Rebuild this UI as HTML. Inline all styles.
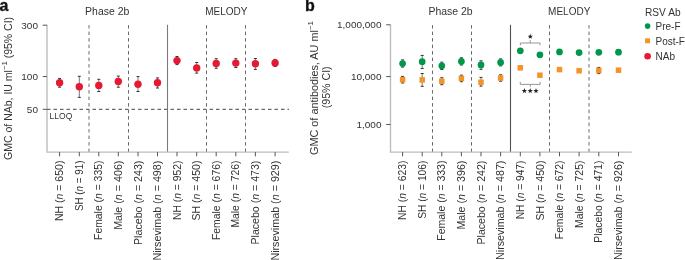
<!DOCTYPE html><html><head><meta charset="utf-8"><style>html,body{margin:0;padding:0;background:#fff;}svg{display:block;will-change:transform;}text{font-family:"Liberation Sans",sans-serif;}</style></head><body>
<svg width="685" height="260" viewBox="0 0 685 260">
<rect width="685" height="260" fill="#fff"/>
<text x="-0.4" y="11.4" font-size="16" font-weight="bold" fill="#111" stroke="#111" stroke-width="0.3">a</text>
<line x1="89.0" y1="25.1" x2="89.0" y2="152.1" stroke="#6a6a6a" stroke-width="1" stroke-dasharray="3.5 3"/>
<line x1="128.5" y1="25.1" x2="128.5" y2="152.1" stroke="#6a6a6a" stroke-width="1" stroke-dasharray="3.5 3"/>
<line x1="206.5" y1="25.1" x2="206.5" y2="152.1" stroke="#6a6a6a" stroke-width="1" stroke-dasharray="3.5 3"/>
<line x1="245.5" y1="25.1" x2="245.5" y2="152.1" stroke="#6a6a6a" stroke-width="1" stroke-dasharray="3.5 3"/>
<line x1="167.5" y1="24.8" x2="167.5" y2="152.1" stroke="#7a7a7a" stroke-width="1.1"/>
<path d="M47 24.8 V152.1 H288.8" fill="none" stroke="#bdbdbd" stroke-width="1.4"/>
<line x1="42.7" y1="25.2" x2="47" y2="25.2" stroke="#555" stroke-width="1"/>
<text x="38" y="28.60" font-size="9.4" fill="#333" text-anchor="end" textLength="16.69" lengthAdjust="spacingAndGlyphs">300</text>
<line x1="42.7" y1="76.6" x2="47" y2="76.6" stroke="#555" stroke-width="1"/>
<text x="38" y="80.00" font-size="9.4" fill="#333" text-anchor="end" textLength="16.69" lengthAdjust="spacingAndGlyphs">100</text>
<line x1="42.7" y1="109.3" x2="47" y2="109.3" stroke="#555" stroke-width="1"/>
<text x="38" y="112.70" font-size="9.4" fill="#333" text-anchor="end" textLength="11.12" lengthAdjust="spacingAndGlyphs">50</text>
<line x1="59.6" y1="152.1" x2="59.6" y2="156.29999999999998" stroke="#555" stroke-width="1"/>
<line x1="79.3" y1="152.1" x2="79.3" y2="156.29999999999998" stroke="#555" stroke-width="1"/>
<line x1="98.8" y1="152.1" x2="98.8" y2="156.29999999999998" stroke="#555" stroke-width="1"/>
<line x1="118.3" y1="152.1" x2="118.3" y2="156.29999999999998" stroke="#555" stroke-width="1"/>
<line x1="138.0" y1="152.1" x2="138.0" y2="156.29999999999998" stroke="#555" stroke-width="1"/>
<line x1="157.5" y1="152.1" x2="157.5" y2="156.29999999999998" stroke="#555" stroke-width="1"/>
<line x1="177.0" y1="152.1" x2="177.0" y2="156.29999999999998" stroke="#555" stroke-width="1"/>
<line x1="196.7" y1="152.1" x2="196.7" y2="156.29999999999998" stroke="#555" stroke-width="1"/>
<line x1="216.2" y1="152.1" x2="216.2" y2="156.29999999999998" stroke="#555" stroke-width="1"/>
<line x1="235.8" y1="152.1" x2="235.8" y2="156.29999999999998" stroke="#555" stroke-width="1"/>
<line x1="255.4" y1="152.1" x2="255.4" y2="156.29999999999998" stroke="#555" stroke-width="1"/>
<line x1="275.1" y1="152.1" x2="275.1" y2="156.29999999999998" stroke="#555" stroke-width="1"/>
<text x="107.2" y="15" font-size="10" fill="#333" text-anchor="middle" textLength="44.2" lengthAdjust="spacingAndGlyphs">Phase 2b</text>
<text x="226.3" y="15" font-size="10" fill="#333" text-anchor="middle">MELODY</text>
<line x1="47" y1="109.4" x2="289" y2="109.4" stroke="#6a6a6a" stroke-width="1.1" stroke-dasharray="3.5 3"/>
<text x="49.6" y="119.2" font-size="8.5" fill="#333">LLOQ</text>
<text transform="translate(12.3 88.4) rotate(-90)" font-size="10" fill="#333" text-anchor="middle" textLength="143" lengthAdjust="spacingAndGlyphs">GMC of NAb, IU ml<tspan font-size="7.4" dy="-5">−1</tspan><tspan dy="5"> (95% CI)</tspan></text>
<line x1="59.6" y1="78.4" x2="59.6" y2="87.2" stroke="#555" stroke-width="0.8"/>
<line x1="58.1" y1="78.4" x2="61.1" y2="78.4" stroke="#333" stroke-width="1"/>
<line x1="58.1" y1="87.2" x2="61.1" y2="87.2" stroke="#333" stroke-width="1"/>
<circle cx="59.6" cy="82.8" r="3.7" fill="#e41a32"/>
<line x1="79.3" y1="76.3" x2="79.3" y2="97.4" stroke="#555" stroke-width="0.8"/>
<line x1="77.8" y1="76.3" x2="80.8" y2="76.3" stroke="#333" stroke-width="1"/>
<line x1="77.8" y1="97.4" x2="80.8" y2="97.4" stroke="#333" stroke-width="1"/>
<circle cx="79.3" cy="86.8" r="3.7" fill="#e41a32"/>
<line x1="98.8" y1="79.3" x2="98.8" y2="91.5" stroke="#555" stroke-width="0.8"/>
<line x1="97.3" y1="79.3" x2="100.3" y2="79.3" stroke="#333" stroke-width="1"/>
<line x1="97.3" y1="91.5" x2="100.3" y2="91.5" stroke="#333" stroke-width="1"/>
<circle cx="98.8" cy="85.4" r="3.7" fill="#e41a32"/>
<line x1="118.3" y1="76.1" x2="118.3" y2="87.2" stroke="#555" stroke-width="0.8"/>
<line x1="116.8" y1="76.1" x2="119.8" y2="76.1" stroke="#333" stroke-width="1"/>
<line x1="116.8" y1="87.2" x2="119.8" y2="87.2" stroke="#333" stroke-width="1"/>
<circle cx="118.3" cy="81.5" r="3.7" fill="#e41a32"/>
<line x1="138.0" y1="76.6" x2="138.0" y2="91.5" stroke="#555" stroke-width="0.8"/>
<line x1="136.5" y1="76.6" x2="139.5" y2="76.6" stroke="#333" stroke-width="1"/>
<line x1="136.5" y1="91.5" x2="139.5" y2="91.5" stroke="#333" stroke-width="1"/>
<circle cx="138.0" cy="84.2" r="3.7" fill="#e41a32"/>
<line x1="157.5" y1="77.9" x2="157.5" y2="88.0" stroke="#555" stroke-width="0.8"/>
<line x1="156.0" y1="77.9" x2="159.0" y2="77.9" stroke="#333" stroke-width="1"/>
<line x1="156.0" y1="88.0" x2="159.0" y2="88.0" stroke="#333" stroke-width="1"/>
<circle cx="157.5" cy="82.8" r="3.7" fill="#e41a32"/>
<line x1="177.0" y1="56.5" x2="177.0" y2="64.6" stroke="#555" stroke-width="0.8"/>
<line x1="175.5" y1="56.5" x2="178.5" y2="56.5" stroke="#333" stroke-width="1"/>
<line x1="175.5" y1="64.6" x2="178.5" y2="64.6" stroke="#333" stroke-width="1"/>
<circle cx="177.0" cy="60.6" r="3.7" fill="#e41a32"/>
<line x1="196.7" y1="62.5" x2="196.7" y2="73.1" stroke="#555" stroke-width="0.8"/>
<line x1="195.2" y1="62.5" x2="198.2" y2="62.5" stroke="#333" stroke-width="1"/>
<line x1="195.2" y1="73.1" x2="198.2" y2="73.1" stroke="#333" stroke-width="1"/>
<circle cx="196.7" cy="67.9" r="3.7" fill="#e41a32"/>
<line x1="216.2" y1="58.7" x2="216.2" y2="68.3" stroke="#555" stroke-width="0.8"/>
<line x1="214.7" y1="58.7" x2="217.7" y2="58.7" stroke="#333" stroke-width="1"/>
<line x1="214.7" y1="68.3" x2="217.7" y2="68.3" stroke="#333" stroke-width="1"/>
<circle cx="216.2" cy="63.5" r="3.7" fill="#e41a32"/>
<line x1="235.8" y1="58.7" x2="235.8" y2="67.5" stroke="#555" stroke-width="0.8"/>
<line x1="234.3" y1="58.7" x2="237.3" y2="58.7" stroke="#333" stroke-width="1"/>
<line x1="234.3" y1="67.5" x2="237.3" y2="67.5" stroke="#333" stroke-width="1"/>
<circle cx="235.8" cy="63.1" r="3.7" fill="#e41a32"/>
<line x1="255.4" y1="58.5" x2="255.4" y2="69.4" stroke="#555" stroke-width="0.8"/>
<line x1="253.9" y1="58.5" x2="256.9" y2="58.5" stroke="#333" stroke-width="1"/>
<line x1="253.9" y1="69.4" x2="256.9" y2="69.4" stroke="#333" stroke-width="1"/>
<circle cx="255.4" cy="63.8" r="3.7" fill="#e41a32"/>
<line x1="275.1" y1="59.4" x2="275.1" y2="66.4" stroke="#555" stroke-width="0.8"/>
<line x1="273.6" y1="59.4" x2="276.6" y2="59.4" stroke="#333" stroke-width="1"/>
<line x1="273.6" y1="66.4" x2="276.6" y2="66.4" stroke="#333" stroke-width="1"/>
<circle cx="275.1" cy="62.9" r="3.7" fill="#e41a32"/>
<text transform="translate(63.20 160.6) rotate(-90)" font-size="10" fill="#333" text-anchor="end" textLength="60.45" lengthAdjust="spacingAndGlyphs">NH (<tspan font-style="italic">n</tspan> = 650)</text>
<text transform="translate(82.90 160.6) rotate(-90)" font-size="10" fill="#333" text-anchor="end" textLength="50.42" lengthAdjust="spacingAndGlyphs">SH (<tspan font-style="italic">n</tspan> = 91)</text>
<text transform="translate(102.40 160.6) rotate(-90)" font-size="10" fill="#333" text-anchor="end" textLength="79.34" lengthAdjust="spacingAndGlyphs">Female (<tspan font-style="italic">n</tspan> = 335)</text>
<text transform="translate(121.90 160.6) rotate(-90)" font-size="10" fill="#333" text-anchor="end" textLength="69.28" lengthAdjust="spacingAndGlyphs">Male (<tspan font-style="italic">n</tspan> = 406)</text>
<text transform="translate(141.60 160.6) rotate(-90)" font-size="10" fill="#333" text-anchor="end" textLength="84.43" lengthAdjust="spacingAndGlyphs">Placebo (<tspan font-style="italic">n</tspan> = 243)</text>
<text transform="translate(161.10 160.6) rotate(-90)" font-size="10" fill="#333" text-anchor="end" textLength="100.01" lengthAdjust="spacingAndGlyphs">Nirsevimab (<tspan font-style="italic">n</tspan> = 498)</text>
<text transform="translate(180.60 160.6) rotate(-90)" font-size="10" fill="#333" text-anchor="end" textLength="59.45" lengthAdjust="spacingAndGlyphs">NH (<tspan font-style="italic">n</tspan> = 952)</text>
<text transform="translate(200.30 160.6) rotate(-90)" font-size="10" fill="#333" text-anchor="end" textLength="59.88" lengthAdjust="spacingAndGlyphs">SH (<tspan font-style="italic">n</tspan> = 450)</text>
<text transform="translate(219.80 160.6) rotate(-90)" font-size="10" fill="#333" text-anchor="end" textLength="79.44" lengthAdjust="spacingAndGlyphs">Female (<tspan font-style="italic">n</tspan> = 676)</text>
<text transform="translate(239.40 160.6) rotate(-90)" font-size="10" fill="#333" text-anchor="end" textLength="66.98" lengthAdjust="spacingAndGlyphs">Male (<tspan font-style="italic">n</tspan> = 726)</text>
<text transform="translate(259.00 160.6) rotate(-90)" font-size="10" fill="#333" text-anchor="end" textLength="83.93" lengthAdjust="spacingAndGlyphs">Placebo (<tspan font-style="italic">n</tspan> = 473)</text>
<text transform="translate(278.70 160.6) rotate(-90)" font-size="10" fill="#333" text-anchor="end" textLength="100.01" lengthAdjust="spacingAndGlyphs">Nirsevimab (<tspan font-style="italic">n</tspan> = 929)</text>
<text x="305.1" y="11.4" font-size="16" font-weight="bold" fill="#111" stroke="#111" stroke-width="0.3">b</text>
<line x1="432.5" y1="25.1" x2="432.5" y2="152.1" stroke="#6a6a6a" stroke-width="1" stroke-dasharray="3.5 3"/>
<line x1="471.5" y1="25.1" x2="471.5" y2="152.1" stroke="#6a6a6a" stroke-width="1" stroke-dasharray="3.5 3"/>
<line x1="549.5" y1="25.1" x2="549.5" y2="152.1" stroke="#6a6a6a" stroke-width="1" stroke-dasharray="3.5 3"/>
<line x1="589.0" y1="25.1" x2="589.0" y2="152.1" stroke="#6a6a6a" stroke-width="1" stroke-dasharray="3.5 3"/>
<line x1="510.5" y1="24.8" x2="510.5" y2="152.1" stroke="#505050" stroke-width="1.1"/>
<path d="M390.5 24.8 V152.1 H631.8" fill="none" stroke="#bdbdbd" stroke-width="1.4"/>
<line x1="386.2" y1="24.8" x2="390.5" y2="24.8" stroke="#555" stroke-width="1"/>
<text x="381.5" y="28.20" font-size="9.4" fill="#333" text-anchor="end" textLength="44.5" lengthAdjust="spacingAndGlyphs">1,000,000</text>
<line x1="386.2" y1="76.6" x2="390.5" y2="76.6" stroke="#555" stroke-width="1"/>
<text x="381.5" y="80.00" font-size="9.4" fill="#333" text-anchor="end" textLength="30.59" lengthAdjust="spacingAndGlyphs">10,000</text>
<line x1="386.2" y1="124.5" x2="390.5" y2="124.5" stroke="#555" stroke-width="1"/>
<text x="381.5" y="127.90" font-size="9.4" fill="#333" text-anchor="end" textLength="25.03" lengthAdjust="spacingAndGlyphs">1,000</text>
<line x1="402.6" y1="152.1" x2="402.6" y2="156.29999999999998" stroke="#555" stroke-width="1"/>
<line x1="422.2" y1="152.1" x2="422.2" y2="156.29999999999998" stroke="#555" stroke-width="1"/>
<line x1="441.8" y1="152.1" x2="441.8" y2="156.29999999999998" stroke="#555" stroke-width="1"/>
<line x1="461.4" y1="152.1" x2="461.4" y2="156.29999999999998" stroke="#555" stroke-width="1"/>
<line x1="481.0" y1="152.1" x2="481.0" y2="156.29999999999998" stroke="#555" stroke-width="1"/>
<line x1="500.6" y1="152.1" x2="500.6" y2="156.29999999999998" stroke="#555" stroke-width="1"/>
<line x1="520.3" y1="152.1" x2="520.3" y2="156.29999999999998" stroke="#555" stroke-width="1"/>
<line x1="539.9" y1="152.1" x2="539.9" y2="156.29999999999998" stroke="#555" stroke-width="1"/>
<line x1="559.5" y1="152.1" x2="559.5" y2="156.29999999999998" stroke="#555" stroke-width="1"/>
<line x1="579.1" y1="152.1" x2="579.1" y2="156.29999999999998" stroke="#555" stroke-width="1"/>
<line x1="598.8" y1="152.1" x2="598.8" y2="156.29999999999998" stroke="#555" stroke-width="1"/>
<line x1="618.5" y1="152.1" x2="618.5" y2="156.29999999999998" stroke="#555" stroke-width="1"/>
<text x="450.6" y="15" font-size="10" fill="#333" text-anchor="middle" textLength="44.2" lengthAdjust="spacingAndGlyphs">Phase 2b</text>
<text x="569.2" y="15" font-size="10" fill="#333" text-anchor="middle">MELODY</text>
<text transform="translate(317.6 88) rotate(-90)" font-size="10" fill="#333" text-anchor="middle" textLength="134" lengthAdjust="spacingAndGlyphs">GMC of antibodies, AU ml<tspan font-size="7.4" dy="-5">−1</tspan></text>
<text transform="translate(330.4 87.3) rotate(-90)" font-size="10" fill="#333" text-anchor="middle" textLength="41.8" lengthAdjust="spacingAndGlyphs">(95% CI)</text>
<line x1="402.6" y1="59.9" x2="402.6" y2="67.1" stroke="#555" stroke-width="0.8"/>
<line x1="401.1" y1="59.9" x2="404.1" y2="59.9" stroke="#333" stroke-width="1"/>
<line x1="401.1" y1="67.1" x2="404.1" y2="67.1" stroke="#333" stroke-width="1"/>
<circle cx="402.6" cy="63.5" r="3.35" fill="#00964b"/>
<line x1="422.2" y1="55.4" x2="422.2" y2="68.5" stroke="#555" stroke-width="0.8"/>
<line x1="420.7" y1="55.4" x2="423.7" y2="55.4" stroke="#333" stroke-width="1"/>
<line x1="420.7" y1="68.5" x2="423.7" y2="68.5" stroke="#333" stroke-width="1"/>
<circle cx="422.2" cy="61.7" r="3.35" fill="#00964b"/>
<line x1="441.8" y1="62.2" x2="441.8" y2="69.5" stroke="#555" stroke-width="0.8"/>
<line x1="440.3" y1="62.2" x2="443.3" y2="62.2" stroke="#333" stroke-width="1"/>
<line x1="440.3" y1="69.5" x2="443.3" y2="69.5" stroke="#333" stroke-width="1"/>
<circle cx="441.8" cy="65.8" r="3.35" fill="#00964b"/>
<line x1="461.4" y1="57.8" x2="461.4" y2="65.0" stroke="#555" stroke-width="0.8"/>
<line x1="459.9" y1="57.8" x2="462.9" y2="57.8" stroke="#333" stroke-width="1"/>
<line x1="459.9" y1="65.0" x2="462.9" y2="65.0" stroke="#333" stroke-width="1"/>
<circle cx="461.4" cy="61.4" r="3.35" fill="#00964b"/>
<line x1="481.0" y1="60.8" x2="481.0" y2="69.3" stroke="#555" stroke-width="0.8"/>
<line x1="479.5" y1="60.8" x2="482.5" y2="60.8" stroke="#333" stroke-width="1"/>
<line x1="479.5" y1="69.3" x2="482.5" y2="69.3" stroke="#333" stroke-width="1"/>
<circle cx="481.0" cy="64.9" r="3.35" fill="#00964b"/>
<line x1="500.6" y1="58.9" x2="500.6" y2="65.9" stroke="#555" stroke-width="0.8"/>
<line x1="499.1" y1="58.9" x2="502.1" y2="58.9" stroke="#333" stroke-width="1"/>
<line x1="499.1" y1="65.9" x2="502.1" y2="65.9" stroke="#333" stroke-width="1"/>
<circle cx="500.6" cy="62.4" r="3.35" fill="#00964b"/>
<circle cx="520.3" cy="50.8" r="3.35" fill="#00964b"/>
<circle cx="539.9" cy="54.8" r="3.35" fill="#00964b"/>
<circle cx="559.5" cy="51.9" r="3.35" fill="#00964b"/>
<circle cx="579.1" cy="52.6" r="3.35" fill="#00964b"/>
<circle cx="598.8" cy="52.3" r="3.35" fill="#00964b"/>
<circle cx="618.5" cy="52.2" r="3.35" fill="#00964b"/>
<line x1="402.6" y1="76.4" x2="402.6" y2="83.0" stroke="#555" stroke-width="0.8"/>
<line x1="401.1" y1="76.4" x2="404.1" y2="76.4" stroke="#333" stroke-width="1"/>
<line x1="401.1" y1="83.0" x2="404.1" y2="83.0" stroke="#333" stroke-width="1"/>
<rect x="399.85" y="76.95" width="5.5" height="5.5" fill="#f29428"/>
<line x1="422.2" y1="73.5" x2="422.2" y2="86.3" stroke="#555" stroke-width="0.8"/>
<line x1="420.7" y1="73.5" x2="423.7" y2="73.5" stroke="#333" stroke-width="1"/>
<line x1="420.7" y1="86.3" x2="423.7" y2="86.3" stroke="#333" stroke-width="1"/>
<rect x="419.45" y="77.15" width="5.5" height="5.5" fill="#f29428"/>
<line x1="441.8" y1="77.7" x2="441.8" y2="84.7" stroke="#555" stroke-width="0.8"/>
<line x1="440.3" y1="77.7" x2="443.3" y2="77.7" stroke="#333" stroke-width="1"/>
<line x1="440.3" y1="84.7" x2="443.3" y2="84.7" stroke="#333" stroke-width="1"/>
<rect x="439.05" y="78.45" width="5.5" height="5.5" fill="#f29428"/>
<line x1="461.4" y1="75.2" x2="461.4" y2="81.7" stroke="#555" stroke-width="0.8"/>
<line x1="459.9" y1="75.2" x2="462.9" y2="75.2" stroke="#333" stroke-width="1"/>
<line x1="459.9" y1="81.7" x2="462.9" y2="81.7" stroke="#333" stroke-width="1"/>
<rect x="458.65" y="75.65" width="5.5" height="5.5" fill="#f29428"/>
<line x1="481.0" y1="77.4" x2="481.0" y2="86.1" stroke="#555" stroke-width="0.8"/>
<line x1="479.5" y1="77.4" x2="482.5" y2="77.4" stroke="#333" stroke-width="1"/>
<line x1="479.5" y1="86.1" x2="482.5" y2="86.1" stroke="#333" stroke-width="1"/>
<rect x="478.25" y="79.45" width="5.5" height="5.5" fill="#f29428"/>
<line x1="500.6" y1="74.8" x2="500.6" y2="81.2" stroke="#555" stroke-width="0.8"/>
<line x1="499.1" y1="74.8" x2="502.1" y2="74.8" stroke="#333" stroke-width="1"/>
<line x1="499.1" y1="81.2" x2="502.1" y2="81.2" stroke="#333" stroke-width="1"/>
<rect x="497.85" y="75.25" width="5.5" height="5.5" fill="#f29428"/>
<rect x="517.55" y="65.05" width="5.5" height="5.5" fill="#f29428"/>
<rect x="537.15" y="72.45" width="5.5" height="5.5" fill="#f29428"/>
<rect x="556.75" y="66.85" width="5.5" height="5.5" fill="#f29428"/>
<rect x="576.35" y="68.05" width="5.5" height="5.5" fill="#f29428"/>
<line x1="598.8" y1="67.4" x2="598.8" y2="73.6" stroke="#555" stroke-width="0.8"/>
<line x1="597.3" y1="67.4" x2="600.3" y2="67.4" stroke="#333" stroke-width="1"/>
<line x1="597.3" y1="73.6" x2="600.3" y2="73.6" stroke="#333" stroke-width="1"/>
<rect x="596.05" y="67.75" width="5.5" height="5.5" fill="#f29428"/>
<rect x="615.75" y="67.45" width="5.5" height="5.5" fill="#f29428"/>
<path d="M520.4 45.4 V43.0 H540 V45.4 M530.2 43.0 V40.2" fill="none" stroke="#8a8a8a" stroke-width="0.9"/>
<polygon points="530.30,33.80 530.98,35.67 532.96,35.73 531.39,36.96 531.95,38.87 530.30,37.75 528.65,38.87 529.21,36.96 527.64,35.73 529.62,35.67" fill="#222"/>
<path d="M520.3 81.9 V84.4 H540.2 V81.9 M530.3 84.4 V86.7" fill="none" stroke="#8a8a8a" stroke-width="0.9"/>
<polygon points="524.40,88.10 525.08,89.97 527.06,90.03 525.49,91.26 526.05,93.17 524.40,92.05 522.75,93.17 523.31,91.26 521.74,90.03 523.72,89.97" fill="#222"/>
<polygon points="530.20,88.10 530.88,89.97 532.86,90.03 531.29,91.26 531.85,93.17 530.20,92.05 528.55,93.17 529.11,91.26 527.54,90.03 529.52,89.97" fill="#222"/>
<polygon points="536.00,88.10 536.68,89.97 538.66,90.03 537.09,91.26 537.65,93.17 536.00,92.05 534.35,93.17 534.91,91.26 533.34,90.03 535.32,89.97" fill="#222"/>
<text transform="translate(406.20 160.6) rotate(-90)" font-size="10" fill="#333" text-anchor="end" textLength="59.45" lengthAdjust="spacingAndGlyphs">NH (<tspan font-style="italic">n</tspan> = 623)</text>
<text transform="translate(425.80 160.6) rotate(-90)" font-size="10" fill="#333" text-anchor="end" textLength="58.28" lengthAdjust="spacingAndGlyphs">SH (<tspan font-style="italic">n</tspan> = 106)</text>
<text transform="translate(445.40 160.6) rotate(-90)" font-size="10" fill="#333" text-anchor="end" textLength="80.14" lengthAdjust="spacingAndGlyphs">Female (<tspan font-style="italic">n</tspan> = 333)</text>
<text transform="translate(465.00 160.6) rotate(-90)" font-size="10" fill="#333" text-anchor="end" textLength="68.98" lengthAdjust="spacingAndGlyphs">Male (<tspan font-style="italic">n</tspan> = 396)</text>
<text transform="translate(484.60 160.6) rotate(-90)" font-size="10" fill="#333" text-anchor="end" textLength="83.93" lengthAdjust="spacingAndGlyphs">Placebo (<tspan font-style="italic">n</tspan> = 242)</text>
<text transform="translate(504.20 160.6) rotate(-90)" font-size="10" fill="#333" text-anchor="end" textLength="99.31" lengthAdjust="spacingAndGlyphs">Nirsevimab (<tspan font-style="italic">n</tspan> = 487)</text>
<text transform="translate(523.90 160.6) rotate(-90)" font-size="10" fill="#333" text-anchor="end" textLength="58.75" lengthAdjust="spacingAndGlyphs">NH (<tspan font-style="italic">n</tspan> = 947)</text>
<text transform="translate(543.50 160.6) rotate(-90)" font-size="10" fill="#333" text-anchor="end" textLength="59.88" lengthAdjust="spacingAndGlyphs">SH (<tspan font-style="italic">n</tspan> = 450)</text>
<text transform="translate(563.10 160.6) rotate(-90)" font-size="10" fill="#333" text-anchor="end" textLength="78.54" lengthAdjust="spacingAndGlyphs">Female (<tspan font-style="italic">n</tspan> = 672)</text>
<text transform="translate(582.70 160.6) rotate(-90)" font-size="10" fill="#333" text-anchor="end" textLength="67.38" lengthAdjust="spacingAndGlyphs">Male (<tspan font-style="italic">n</tspan> = 725)</text>
<text transform="translate(602.40 160.6) rotate(-90)" font-size="10" fill="#333" text-anchor="end" textLength="82.13" lengthAdjust="spacingAndGlyphs">Placebo (<tspan font-style="italic">n</tspan> = 471)</text>
<text transform="translate(622.10 160.6) rotate(-90)" font-size="10" fill="#333" text-anchor="end" textLength="99.31" lengthAdjust="spacingAndGlyphs">Nirsevimab (<tspan font-style="italic">n</tspan> = 926)</text>
<text x="645" y="16.4" font-size="10" fill="#333" textLength="35.6" lengthAdjust="spacingAndGlyphs">RSV Ab</text>
<circle cx="647.6" cy="26.1" r="2.8" fill="#00964b"/>
<text x="655.5" y="29.8" font-size="10" fill="#333">Pre-F</text>
<rect x="645.1" y="38.3" width="5" height="5" fill="#f29428"/>
<text x="655.5" y="44.7" font-size="10" fill="#333">Post-F</text>
<circle cx="647.6" cy="56.3" r="3.3" fill="#e41a32"/>
<text x="655.5" y="60.2" font-size="10" fill="#333">NAb</text>
</svg></body></html>
